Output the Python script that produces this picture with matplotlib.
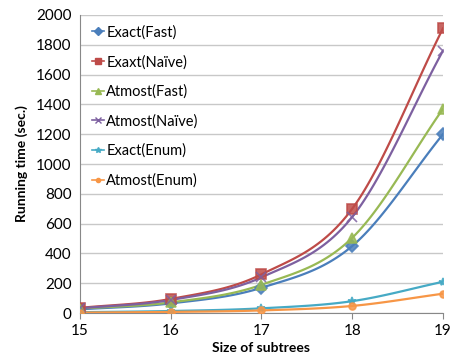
import numpy as np
import matplotlib
matplotlib.use("Agg")
import matplotlib.pyplot as plt

plt.rcParams['font.family'] = ['Lato', 'DejaVu Sans']

# Data
sizes = [15, 16, 17, 18, 19]
exact_fast = [25, 65, 170, 450, 1200]
exaxt_naive = [35, 95, 260, 700, 1910]
atmost_fast = [30, 72, 190, 505, 1370]
atmost_naive = [32, 88, 240, 645, 1760]
exact_enum = [6, 14, 32, 80, 210]
atmost_enum = [3, 8, 18, 48, 130]

series = [
    ("Exact(Fast)", exact_fast, '#4A7EBB', 'D', 6),
    ("Exaxt(Na\u00efve)", exaxt_naive, '#BE4B48', 's', 7),
    ("Atmost(Fast)", atmost_fast, '#98B954', '^', 7),
    ("Atmost(Na\u00efve)", atmost_naive, '#7D60A0', 'x', 7),
    ("Exact(Enum)", exact_enum, '#46AAC5', '*', 6),
    ("Atmost(Enum)", atmost_enum, '#F79646', 'o', 5),
]


def smooth(xs, ys, n=30):
    # Catmull-Rom curve through the points, like Excel's smoothed line
    xs = np.asarray(xs, float)
    ys = np.asarray(ys, float)
    px = np.concatenate([[2 * xs[0] - xs[1]], xs, [2 * xs[-1] - xs[-2]]])
    py = np.concatenate([[2 * ys[0] - ys[1]], ys, [2 * ys[-1] - ys[-2]]])
    out_x, out_y = [], []
    t = np.linspace(0, 1, n)
    for i in range(1, len(px) - 2):
        for p, out in ((px, out_x), (py, out_y)):
            p0, p1, p2, p3 = p[i - 1], p[i], p[i + 1], p[i + 2]
            out.extend(0.5 * ((2 * p1) + (-p0 + p2) * t
                              + (2 * p0 - 5 * p1 + 4 * p2 - p3) * t ** 2
                              + (-p0 + 3 * p1 - 3 * p2 + p3) * t ** 3))
    return out_x, out_y


fig = plt.figure(figsize=(4.52, 3.57), dpi=100)
ax = fig.add_axes([0.177, 0.123, 0.803, 0.835])

for label, vals, color, marker, ms in series:
    sx, sy = smooth(sizes, vals)
    ax.plot(sx, sy, color=color, lw=1.6, zorder=3)
    ax.plot(sizes, vals, linestyle='none', marker=marker, color=color,
            markersize=ms, markeredgecolor=color, markeredgewidth=1.2,
            alpha=0.85, zorder=4)
    # legend proxy
    ax.plot([], [], color=color, lw=1.2, marker=marker, markersize=ms - 2,
            markeredgewidth=1.0, label=label)

ax.set_xlim(15, 19)
ax.set_ylim(0, 2000)
ax.set_xticks(sizes)
ax.set_yticks(range(0, 2001, 200))
ax.yaxis.grid(True, color='#C8C8C8', lw=1)
ax.set_axisbelow(True)
for s in ('top', 'right'):
    ax.spines[s].set_visible(False)
for s in ('left', 'bottom'):
    ax.spines[s].set_color('#888888')
ax.tick_params(axis='y', length=0, labelsize=11, pad=6)
ax.tick_params(axis='x', length=4, color='#888888', labelsize=11, pad=4)

ax.set_xlabel("Size of subtrees", fontsize=10, fontweight='bold', labelpad=3)
ax.set_ylabel("Running time (sec.)", fontsize=10, fontweight='bold', labelpad=6)

leg = ax.legend(loc='upper left', frameon=False, fontsize=10.5,
                handlelength=0.8, handletextpad=0.15, labelspacing=1.05,
                bbox_to_anchor=(0.01, 0.995), borderaxespad=0.2)

fig.savefig("out.png", dpi=100)
